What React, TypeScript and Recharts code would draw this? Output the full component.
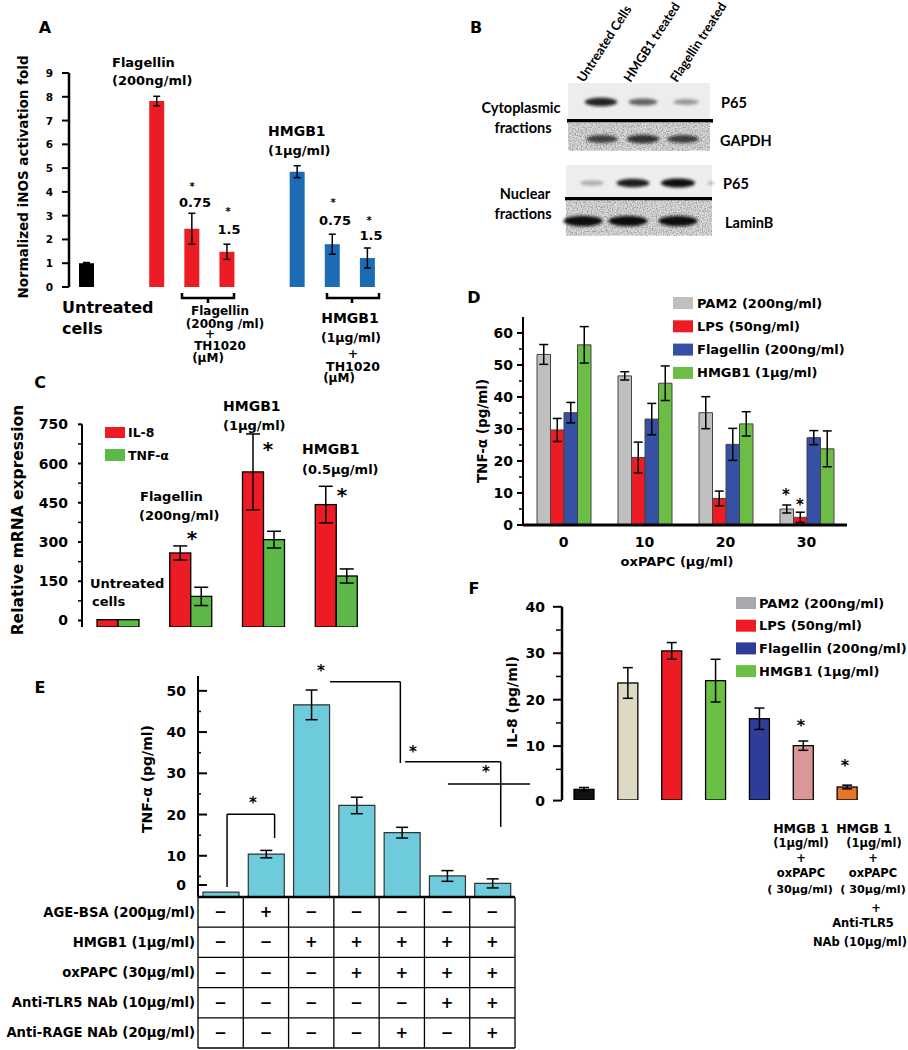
import { BarChart, Bar, XAxis, YAxis, ErrorBar, Cell, ReferenceLine } from "recharts";

const FONT = "'DejaVu Sans', Verdana, sans-serif";
const BLOT_FONT = "Lato, 'Open Sans', sans-serif";

// ---------- A: iNOS activation ----------
const aNames = ["Untreated cells", "gap1", "Flagellin", "Flagellin+TH1020 0.75", "Flagellin+TH1020 1.5", "gap2", "HMGB1", "HMGB1+TH1020 0.75", "HMGB1+TH1020 1.5"];
const aFold = [1.0, null, 7.82, 2.45, 1.48, null, 4.85, 1.8, 1.22];
const aFoldErr = [0.03, null, 0.2, 0.65, 0.32, null, 0.25, 0.42, 0.42];
const aColors = ["#000000", "#000000", "#ec1c24", "#ec1c24", "#ec1c24", "#000000", "#1c6cb5", "#1c6cb5", "#1c6cb5"];
const aTicks = [0, 1, 2, 3, 4, 5, 6, 7, 8, 9];
const aSlots = [0, 1, 2, 3, 4, 5, 6, 7, 8, 9];

// ---------- B: western blot ----------
const bLanes = ["Untreated Cells", "HMGB1 treated", "Flagellin treated"];
const bCytoP65 = [0.9, 0.62, 0.38];
const bGapdh = [0.72, 0.8, 0.74];
const bNucP65 = [0.28, 0.92, 1.0];
const bLaminB = [1.0, 1.0, 1.0];

// ---------- C: mRNA expression ----------
const cGroups = ["Untreated cells", "Flagellin (200ng/ml)", "HMGB1 (1µg/ml)", "HMGB1 (0.5µg/ml)"];
const cIl8 = [3, 258, 568, 443];
const cIl8Err = [0, 27, 145, 70];
const cTnf = [3, 92, 309, 170];
const cTnfErr = [0, 35, 32, 27];
const cTicks = [0, 75, 150, 225, 300, 375, 450, 525, 600, 675, 750];

// ---------- D: TNF-a vs oxPAPC ----------
const dDoses = ["0", "10", "20", "30"];
const dPam2 = [53.3, 46.6, 35.1, 5.0];
const dPam2Err = [3.1, 1.3, 5.0, 1.25];
const dLps = [29.7, 21.1, 8.3, 2.4];
const dLpsErr = [3.6, 4.8, 2.3, 1.6];
const dFlag = [35.1, 33.1, 25.2, 27.3];
const dFlagErr = [3.2, 4.9, 5.0, 2.2];
const dHmgb1 = [56.3, 44.3, 31.6, 23.8];
const dHmgb1Err = [5.7, 5.4, 3.8, 5.6];
const dTicks = [0, 5, 10, 15, 20, 25, 30, 35, 40, 45, 50, 55, 60];
const dLegend = ["PAM2 (200ng/ml)", "LPS (50ng/ml)", "Flagellin (200ng/ml)", "HMGB1 (1µg/ml)"];

// ---------- E: TNF-a with blockers ----------
const eConds = ["c1", "c2", "c3", "c4", "c5", "c6", "c7"];
const eTnf = [1.2, 10.4, 46.6, 22.2, 15.6, 5.1, 3.3];
const eTnfErr = [0, 0.9, 3.6, 2.0, 1.3, 1.3, 1.1];
const eTicks = [0, 5, 10, 15, 20, 25, 30, 35, 40, 45, 50];
const eRowLabels = ["AGE-BSA (200µg/ml)", "HMGB1 (1µg/ml)", "oxPAPC (30µg/ml)", "Anti-TLR5 NAb (10µg/ml)", "Anti-RAGE NAb (20µg/ml)"];
const eRowSigns = [
  [0, 1, 0, 0, 0, 0, 0],
  [0, 0, 1, 1, 1, 1, 1],
  [0, 0, 0, 1, 1, 1, 1],
  [0, 0, 0, 0, 0, 1, 1],
  [0, 0, 0, 0, 1, 0, 1],
];
// significance brackets (x in condition slots, y in pg/ml)
const eBrackets = [
  [[0.55, 2.4], [0.55, 20.1], [1.45, 20.1], [1.45, 14.3]],
  [[2.5, 52.2], [3.83, 52.2], [3.83, 32.5]],
  [[3.92, 32.8], [5.73, 32.8], [5.73, 17]],
  [[4.73, 27.4], [6.81, 27.4], [6.81, 8.5]],
];

// ---------- F: IL-8 ----------
const fNames = ["Untreated", "PAM2", "LPS", "HMGB1", "Flagellin", "HMGB1+oxPAPC", "HMGB1+oxPAPC+Anti-TLR5"];
const fIl8 = [0.7, 23.6, 30.5, 24.1, 15.9, 10.1, 1.2];
const fIl8Err = [0.4, 3.3, 1.8, 4.6, 2.3, 1.0, 0.4];
const fColors = ["#111111", "#ddd9c3", "#ed1c24", "#6abf45", "#2e3d98", "#d99796", "#e8742a"];
const fTicks = [0, 5, 10, 15, 20, 25, 30, 35, 40];
const fLegend = ["PAM2 (200ng/ml)", "LPS (50ng/ml)", "Flagellin (200ng/ml)", "HMGB1 (1µg/ml)"];
const fLegendColors = ["#a7a9ac", "#ed1c24", "#2e3d98", "#6abf45"];

const aData = aNames.map((name, i) => ({ name, fold: aFold[i], err: aFoldErr[i] }));
const cData = cGroups.map((name, i) => ({ name, il8: cIl8[i], il8Err: cIl8Err[i], tnf: cTnf[i], tnfErr: cTnfErr[i] }));
const dData = dDoses.map((dose, i) => ({
  dose, pam2: dPam2[i], pam2Err: dPam2Err[i], lps: dLps[i], lpsErr: dLpsErr[i],
  flag: dFlag[i], flagErr: dFlagErr[i], hmgb1: dHmgb1[i], hmgb1Err: dHmgb1Err[i],
}));
const eData = eConds.map((name, i) => ({ name, tnf: eTnf[i], err: eTnfErr[i] }));
const fData = fNames.map((name, i) => ({ name, il8: fIl8[i], err: fIl8Err[i] }));

// E geometry (shared by chart and table)
const E_LEFT = 198;
const E_RIGHT = 515;
const E_BASE = 897;
const E_BAND = (E_RIGHT - E_LEFT) / eConds.length;
const E_ROW = 30.2;

const YTick = (p: any) => {
  const { x, y, payload, every, major, minor, inward, gap, size, shift } = p;
  const v = payload.value;
  const isMajor = Math.abs(v / every - Math.round(v / every)) < 1e-6;
  const len = isMajor ? major : minor;
  const dy = shift && shift[v] ? shift[v] : 0;
  return (
    <g>
      <line x1={x} x2={x + (inward ? len : -len)} y1={y + dy} y2={y + dy} stroke="#000" strokeWidth={isMajor ? 2 : 1.5} />
      {isMajor && (
        <text x={x - gap} y={y + dy} textAnchor="end" dominantBaseline="central" fontSize={size} fontWeight="bold" fontFamily={FONT} fill="#000">
          {v}
        </text>
      )}
    </g>
  );
};

const XTick = (p: any) => {
  const { x, y, len } = p;
  return <line x1={x} x2={x} y1={y} y2={y + len} stroke="#000" strokeWidth={2} />;
};

// bar that reaches down to the axis line even when the domain starts below 0
const AxisBar = (p: any) => {
  const bottom = p.background && p.background.height ? p.background.y + p.background.height : p.y + p.height;
  return <rect x={p.x} y={p.y} width={p.width} height={Math.max(0, bottom - p.y)} fill={p.fill} stroke="#000" strokeWidth={1.3} />;
};

const axisLine = { stroke: "#000", strokeWidth: 2.5 };

const T = ({ x, y, s = 13, a = "start", f = FONT, r, bl, children }: any) => (
  <text
    x={x}
    y={y}
    fontSize={s}
    textAnchor={a}
    dominantBaseline={bl ? "alphabetic" : "central"}
    fontFamily={f}
    fontWeight="bold"
    fill="#000"
    transform={r ? `rotate(${r} ${x} ${y})` : undefined}
  >
    {children}
  </text>
);

const Star = ({ x, y, s = 15 }: any) => (
  <text x={x} y={y + s * 0.52} textAnchor="middle" fontSize={s} fontWeight="bold" fontFamily={FONT} fill="#000">
    *
  </text>
);

const PanelA = () => (
  <div style={{ position: "absolute", left: 0, top: 50 }}>
    <BarChart width={400} height={260} data={aData} margin={{ top: 23, right: 15, bottom: 13, left: 19 }} barCategoryGap={0}>
      <XAxis dataKey="name" hide />
      <XAxis
        xAxisId="g" type="number" domain={[0, 9]} ticks={aSlots} interval={0} allowDataOverflow height={10}
        tickSize={0} tickMargin={0} tickLine={false} axisLine={axisLine} tick={(p: any) => <XTick {...p} len={6} />}
      />
      <YAxis
        type="number" domain={[0, 9]} ticks={aTicks} interval={0} width={50} allowDataOverflow
        tickSize={0} tickMargin={0} tickLine={false} axisLine={axisLine}
        tick={(p: any) => <YTick {...p} every={1} major={7} minor={7} gap={16} size={10.5} />}
      />
      <Bar dataKey="fold" barSize={15} isAnimationActive={false}>
        {aData.map((d, i) => <Cell key={d.name} fill={aColors[i]} />)}
        <ErrorBar dataKey="err" width={3.5} stroke="#000" strokeWidth={1.5} />
      </Bar>
    </BarChart>
  </div>
);

const PanelC = () => (
  <div style={{ position: "absolute", left: 0, top: 395 }}>
    <BarChart width={390} height={245} data={cData} margin={{ top: 29.3, right: 17, bottom: 12, left: 30 }} barGap={0}>
      <XAxis dataKey="name" hide />
      <XAxis
        xAxisId="g" type="number" domain={[0, 4]} ticks={[1, 2, 3]} interval={0} allowDataOverflow height={1}
        tickSize={0} tickMargin={0} tickLine={false} axisLine={{ stroke: "#000", strokeWidth: 2 }} tick={(p: any) => <XTick {...p} len={-6} />}
      />
      <YAxis
        type="number" domain={[-25, 750]} ticks={cTicks} interval={0} width={52} allowDataOverflow
        tickSize={0} tickMargin={0} tickLine={false} axisLine={{ stroke: "#000", strokeWidth: 2 }}
        tick={(p: any) => <YTick {...p} every={150} major={4} minor={4} gap={14} size={14} />}
      />
      <Bar dataKey="il8" fill="#ed1c24" barSize={21} shape={AxisBar} isAnimationActive={false}>
        <ErrorBar dataKey="il8Err" width={7} stroke="#000" strokeWidth={1.5} />
      </Bar>
      <Bar dataKey="tnf" fill="#5cb947" barSize={21} shape={AxisBar} isAnimationActive={false}>
        <ErrorBar dataKey="tnfErr" width={7} stroke="#000" strokeWidth={1.5} />
      </Bar>
    </BarChart>
  </div>
);

const dSeries = [
  { key: "pam2", err: "pam2Err", color: "#bfbfbf" },
  { key: "lps", err: "lpsErr", color: "#ed1c24" },
  { key: "flag", err: "flagErr", color: "#3651a3" },
  { key: "hmgb1", err: "hmgb1Err", color: "#6bbd45" },
];

const PanelD = () => (
  <div style={{ position: "absolute", left: 470, top: 290 }}>
    <BarChart width={438} height={280} data={dData} margin={{ top: 27, right: 61, bottom: 25, left: 13 }} barGap={0}>
      <XAxis
        dataKey="dose" height={20} interval={0} tickLine={false} tickSize={0} tickMargin={12} axisLine={{ stroke: "#000", strokeWidth: 3 }}
        tick={{ fontSize: 14, fontWeight: "bold", fill: "#000", fontFamily: FONT }}
      />
      <YAxis
        type="number" domain={[0, 65]} ticks={dTicks} interval={0} width={40} allowDataOverflow
        tickSize={0} tickMargin={0} tickLine={false} axisLine={{ stroke: "#000", strokeWidth: 2 }}
        tick={(p: any) => <YTick {...p} every={10} major={6} minor={4} gap={10} size={14} />}
      />
      {dSeries.map((s) => (
        <Bar key={s.key} dataKey={s.key} fill={s.color} stroke="#444" strokeWidth={1} barSize={13.5} isAnimationActive={false}>
          <ErrorBar dataKey={s.err} width={4.5} stroke="#000" strokeWidth={1.5} />
        </Bar>
      ))}
    </BarChart>
  </div>
);

const PanelE = () => (
  <div style={{ position: "absolute", left: 100, top: 640 }}>
    <BarChart width={430} height={260} data={eData} margin={{ top: 36, right: 15, bottom: 3, left: 58 }}>
      <XAxis dataKey="name" hide />
      <XAxis xAxisId="n" type="number" domain={[0, 7]} allowDataOverflow hide />
      <YAxis
        type="number" domain={[0, 53.6]} ticks={eTicks} interval={0} width={40} allowDataOverflow
        tickSize={0} tickMargin={0} tickLine={false} axisLine={{ stroke: "#000", strokeWidth: 2 }}
        tick={(p: any) => <YTick {...p} every={10} major={9} minor={3} inward gap={12} size={14} shift={{ 0: -12 }} />}
      />
      <Bar dataKey="tnf" fill="#6ecbdc" stroke="#333" strokeWidth={1.2} barSize={36} isAnimationActive={false}>
        <ErrorBar dataKey="err" width={6} stroke="#000" strokeWidth={1.5} />
      </Bar>
      {eBrackets.map((pts, b) =>
        pts.slice(1).map((pt, k) => (
          <ReferenceLine
            key={`${b}-${k}`}
            xAxisId="n"
            segment={[{ x: pts[k][0], y: pts[k][1] }, { x: pt[0], y: pt[1] }]}
            stroke="#000"
            strokeWidth={1.5}
            ifOverflow="visible"
          />
        ))
      )}
    </BarChart>
  </div>
);

const PanelF = () => (
  <div style={{ position: "absolute", left: 480, top: 590 }}>
    <BarChart width={428} height={230} data={fData} margin={{ top: 16.8, right: 39, bottom: 10, left: 32 }} barCategoryGap={0}>
      <XAxis dataKey="name" hide />
      <XAxis
        xAxisId="g" type="number" domain={[0, 7]} ticks={[1, 2, 3, 4, 5, 6, 7]} interval={0} allowDataOverflow height={10}
        tickSize={0} tickMargin={0} tickLine={false} axisLine={axisLine} tick={(p: any) => <XTick {...p} len={8} />}
      />
      <YAxis
        type="number" domain={[-1.6, 40]} ticks={fTicks} interval={0} width={50} allowDataOverflow
        tickSize={0} tickMargin={0} tickLine={false} axisLine={axisLine}
        tick={(p: any) => <YTick {...p} every={10} major={9} minor={6} gap={17} size={14} shift={{ 0: 8 }} />}
      />
      <Bar dataKey="il8" barSize={20} shape={AxisBar} isAnimationActive={false}>
        {fData.map((d, i) => <Cell key={d.name} fill={fColors[i]} />)}
        <ErrorBar dataKey="err" width={5} stroke="#000" strokeWidth={1.5} />
      </Bar>
    </BarChart>
  </div>
);

const Blot = ({ x, y, w, h, bg, noise, bands, lanes, cy, k }: any) => (
  <g>
    <rect x={x} y={y} width={w} height={h} fill={bg} />
    {noise && <rect x={x} y={y} width={w} height={h} fill="#000" filter="url(#speckle)" />}
    {bands.map((v: number, i: number) => (
      <ellipse key={i} cx={lanes[i]} cy={cy} rx={(20 + 14 * v) * k / 2} ry={(4 + 5 * v) * k / 2} fill="#111" opacity={v} filter="url(#soft)" />
    ))}
  </g>
);

const Overlay = () => (
  <svg width={908} height={1050} style={{ position: "absolute", left: 0, top: 0, pointerEvents: "none" }}>
    <defs>
      <filter id="soft" x="-50%" y="-80%" width="200%" height="260%">
        <feGaussianBlur stdDeviation="1.8" />
      </filter>
      <filter id="speckle" x="0" y="0" width="1" height="1">
        <feTurbulence type="fractalNoise" baseFrequency="0.8" numOctaves="2" seed="4" />
        <feColorMatrix type="matrix" values="0 0 0 0 0  0 0 0 0 0  0 0 0 0 0  0.8 0 0 0 -0.32" />
      </filter>
    </defs>

    {/* ---- A ---- */}
    <T x={45} y={27} s={16} a="middle">A</T>
    <T x={23} y={177} s={13.5} a="middle" r={-90}>Normalized iNOS activation fold</T>
    <T x={112} y={62}>Flagellin</T>
    <T x={112} y={80}>(200ng/ml)</T>
    <T x={268} y={131} s={14}>HMGB1</T>
    <T x={268} y={150}>(1µg/ml)</T>
    <Star x={192} y={185} s={10} />
    <T x={195} y={202} a="middle">0.75</T>
    <Star x={228} y={210} s={10} />
    <T x={229} y={229} a="middle">1.5</T>
    <Star x={333} y={201} s={10} />
    <T x={335} y={220} a="middle">0.75</T>
    <Star x={369} y={219} s={10} />
    <T x={371} y={235} a="middle">1.5</T>
    <T x={62} y={307} s={16}>Untreated</T>
    <T x={62} y={328} s={16}>cells</T>
    <path d="M182 293 V298 H234 V293 M208 298 V303" stroke="#000" strokeWidth={2.5} fill="none" />
    <path d="M327 293 V298 H379 V293 M352 298 V303" stroke="#000" strokeWidth={2.5} fill="none" />
    <T x={220} y={311} s={12} a="middle">Flagellin</T>
    <T x={225} y={323.5} s={12} a="middle">(200ng /ml)</T>
    <T x={210} y={334} s={12} a="middle">+</T>
    <T x={220} y={346} s={12} a="middle">TH1020</T>
    <T x={208} y={358} s={12} a="middle">(µM)</T>
    <T x={350} y={318} s={14} a="middle">HMGB1</T>
    <T x={351} y={337} s={12.5} a="middle">(1µg/ml)</T>
    <T x={353} y={353} s={12.5} a="middle">+</T>
    <T x={353} y={366} s={12.5} a="middle">TH1020</T>
    <T x={339} y={378} s={12} a="middle">(µM)</T>

    {/* ---- B ---- */}
    <T x={476} y={27} s={16} a="middle">B</T>
    {bLanes.map((lab, i) => (
      <T key={lab} x={584 + i * 46.5} y={83} s={12.8} f={BLOT_FONT} r={-57} bl>{lab}</T>
    ))}
    <Blot x={568} y={83} w={142} h={36} bg="#ededed" bands={bCytoP65} lanes={[601, 643, 686]} cy={102} k={1} />
    <rect x={567} y={119} width={146} height={3.5} fill="#000" />
    <Blot x={568} y={122.5} w={142} h={28} bg="#dadada" noise bands={bGapdh} lanes={[602, 643, 683]} cy={139} k={1.05} />
    <Blot x={566} y={165} w={146} h={32} bg="#eeeeee" bands={bNucP65} lanes={[592, 633, 678]} cy={183} k={1} />
    <ellipse cx={711} cy={183} rx={3} ry={2} fill="#111" opacity={0.25} filter="url(#soft)" />
    <rect x={565} y={197} width={147} height={3.5} fill="#000" />
    <Blot x={566} y={200.5} w={146} h={35} bg="#dcdcdc" noise bands={bLaminB} lanes={[583, 628, 678]} cy={221} k={1.15} />
    <T x={521} y={107} s={14.5} f={BLOT_FONT} a="middle">Cytoplasmic</T>
    <T x={523} y={127} s={14.5} f={BLOT_FONT} a="middle">fractions</T>
    <T x={525} y={193} s={14.5} f={BLOT_FONT} a="middle">Nuclear</T>
    <T x={523} y={213} s={14.5} f={BLOT_FONT} a="middle">fractions</T>
    <T x={721} y={102} s={14.5} f={BLOT_FONT}>P65</T>
    <T x={720} y={140} s={14.5} f={BLOT_FONT}>GAPDH</T>
    <T x={723} y={183} s={14.5} f={BLOT_FONT}>P65</T>
    <T x={725} y={222} s={14.5} f={BLOT_FONT}>LaminB</T>

    {/* ---- C ---- */}
    <T x={40} y={382} s={16} a="middle">C</T>
    <T x={18} y={520} s={15.5} a="middle" r={-90}>Relative mRNA expression</T>
    <rect x={105} y={427} width={20} height={11} fill="#ed1c24" />
    <T x={128} y={432} s={12.5}>IL-8</T>
    <rect x={105} y={449} width={20} height={12} fill="#5cb947" />
    <T x={128} y={455} s={12.5}>TNF-α</T>
    <T x={90} y={583}>Untreated</T>
    <T x={92} y={601}>cells</T>
    <T x={140} y={496}>Flagellin</T>
    <T x={139} y={515}>(200ng/ml)</T>
    <Star x={192} y={535} s={20} />
    <T x={223} y={406} s={14}>HMGB1</T>
    <T x={223} y={425}>(1µg/ml)</T>
    <Star x={268} y={446} s={20} />
    <T x={302} y={449} s={14}>HMGB1</T>
    <T x={302} y={469}>(0.5µg/ml)</T>
    <Star x={342} y={492} s={20} />

    {/* ---- D ---- */}
    <T x={474} y={297} s={16} a="middle">D</T>
    <T x={482} y={431} s={13.5} a="middle" r={-90}>TNF-α (pg/ml)</T>
    <T x={677} y={561} a="middle">oxPAPC (µg/ml)</T>
    {dLegend.map((lab, i) => (
      <g key={lab}>
        <rect x={673} y={297 + i * 23.3} width={20} height={12} fill={dSeries[i].color} />
        <T x={697} y={303 + i * 23.3}>{lab}</T>
      </g>
    ))}
    <Star x={786} y={492} s={15} />
    <Star x={800} y={502} s={15} />

    {/* ---- E ---- */}
    <T x={40} y={687} s={16} a="middle">E</T>
    <T x={147} y={779} s={14} a="middle" r={-90}>TNF-α (pg/ml)</T>
    <Star x={253} y={800} s={15} />
    <Star x={321} y={668} s={15} />
    <Star x={413} y={749} s={15} />
    <Star x={486} y={769} s={15} />
    <line x1={E_LEFT} x2={E_RIGHT} y1={E_BASE} y2={E_BASE} stroke="#000" strokeWidth={2.5} />
    {eRowLabels.map((_, r) => (
      <line key={r} x1={E_LEFT} x2={E_RIGHT} y1={E_BASE + (r + 1) * E_ROW} y2={E_BASE + (r + 1) * E_ROW} stroke="#000" strokeWidth={1.3} />
    ))}
    {eConds.map((_, c) => (
      <line key={c} x1={E_LEFT + c * E_BAND} x2={E_LEFT + c * E_BAND} y1={E_BASE} y2={E_BASE + eRowLabels.length * E_ROW} stroke="#000" strokeWidth={1.3} />
    ))}
    <line x1={E_RIGHT} x2={E_RIGHT} y1={E_BASE} y2={E_BASE + eRowLabels.length * E_ROW} stroke="#000" strokeWidth={1.3} />
    {eRowLabels.map((lab, r) => {
      const cy = E_BASE + (r + 0.5) * E_ROW;
      return (
        <g key={lab}>
          <T x={195} y={cy} s={13.2} a="end">{lab}</T>
          {eRowSigns[r].map((on, c) => (
            <T key={c} x={E_LEFT + (c + 0.5) * E_BAND} y={cy} s={15} a="middle">{on ? "+" : "−"}</T>
          ))}
        </g>
      );
    })}

    {/* ---- F ---- */}
    <T x={474} y={588} s={16} a="middle">F</T>
    <T x={512} y={702} s={14} a="middle" r={-90}>IL-8 (pg/ml)</T>
    {fLegend.map((lab, i) => (
      <g key={lab}>
        <rect x={736} y={597 + i * 22.7} width={20} height={12} fill={fLegendColors[i]} />
        <T x={759} y={603 + i * 22.7}>{lab}</T>
      </g>
    ))}
    <Star x={801} y={723} s={16} />
    <Star x={845} y={763} s={16} />
    <T x={801} y={828} s={12.5} a="middle">HMGB 1</T>
    <T x={801} y={843} s={11.5} a="middle">(1µg/ml)</T>
    <T x={801} y={858} s={11.5} a="middle">+</T>
    <T x={801} y={873} s={11.5} a="middle">oxPAPC</T>
    <T x={800} y={889} s={11.2} a="middle">( 30µg/ml)</T>
    <T x={864} y={828} s={12.5} a="middle">HMGB 1</T>
    <T x={874} y={843} s={11.5} a="middle">(1µg/ml)</T>
    <T x={873} y={858} s={11.5} a="middle">+</T>
    <T x={873} y={873} s={11.5} a="middle">oxPAPC</T>
    <T x={873} y={889} s={11.2} a="middle">( 30µg/ml)</T>
    <T x={876} y={908} s={11.5} a="middle">+</T>
    <T x={863} y={923} s={11.5} a="middle">Anti-TLR5</T>
    <T x={860} y={942} s={11.5} a="middle">NAb (10µg/ml)</T>
  </svg>
);

export default function App() {
  return (
    <div style={{ position: "absolute", left: 0, top: 0, width: 908, height: 1050, background: "#fff", overflow: "hidden" }}>
      <PanelA />
      <PanelC />
      <PanelD />
      <PanelE />
      <PanelF />
      <Overlay />
    </div>
  );
}
